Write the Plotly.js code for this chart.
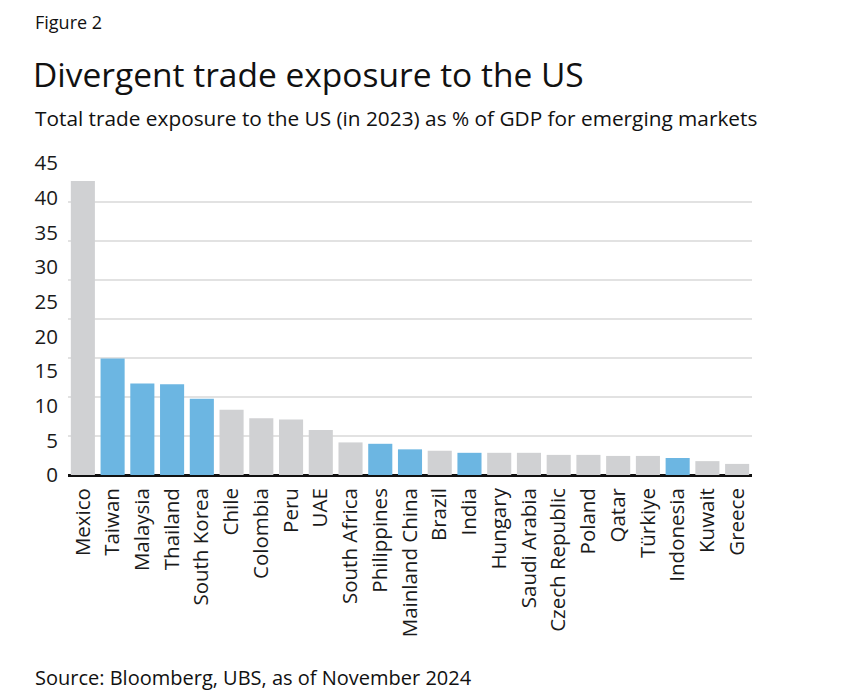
<!DOCTYPE html>
<html>
<head>
<meta charset="utf-8">
<script src="https://cdn.plot.ly/plotly-3.0.1.min.js"></script>
<style>html,body{margin:0;padding:0;background:#fff;}#chart{width:847px;height:694px;}</style>
</head>
<body>
<div id="chart"></div>
<script>
const countries = ["Mexico","Taiwan","Malaysia","Thailand","South Korea","Chile","Colombia","Peru","UAE","South Africa","Philippines","Mainland China","Brazil","India","Hungary","Saudi Arabia","Czech Republic","Poland","Qatar","Türkiye","Indonesia","Kuwait","Greece"];
const exposure = [42.4,16.8,13.2,13.1,11.0,9.4,8.2,8.0,6.5,4.7,4.5,3.7,3.5,3.2,3.2,3.2,2.9,2.9,2.75,2.75,2.45,2.0,1.6];
const highlighted = ["Taiwan","Malaysia","Thailand","South Korea","Philippines","Mainland China","India","Indonesia"];
const yTicks = [0,5,10,15,20,25,30,35,40,45];

const BLUE = "#6cb6e2", GREY = "#d0d1d3";
const FONT = "Open Sans, Noto Sans, sans-serif";
const colors = countries.map(c => highlighted.includes(c) ? BLUE : GREY);

const trace = {
  type: "bar", x: countries, y: exposure,
  marker: {color: colors, line: {width: 0}},
  hoverinfo: "x+y"
};

// plot area: x 68..752, y 163..475 (px)
const PX = v => (v - 68) / 684;
const PY = v => (475 - v) / 312;

const layout = {
  width: 847, height: 694,
  margin: {l: 68, r: 95, t: 163, b: 219},
  paper_bgcolor: "#fff", plot_bgcolor: "#fff",
  bargap: 0.19,
  showlegend: false,
  font: {family: FONT, color: "#1a1a1a"},
  title: {
    text: "Divergent trade exposure to the US",
    font: {family: FONT, size: 33.5, color: "#111"},
    xref: "container", x: 33/847, xanchor: "left",
    yref: "container", y: 1 - 75/694, yanchor: "middle"
  },
  xaxis: {
    type: "category", range: [-0.5, countries.length - 0.5], tickangle: -90,
    tickfont: {family: FONT, size: 20.5, color: "#1a1a1a"},
    showgrid: false, zeroline: false, showline: false, ticks: "",
    ticklabelstandoff: 8
  },
  yaxis: {
    range: [0, 45], tickvals: yTicks, ticktext: yTicks.map(String),
    tickfont: {family: FONT, size: 20.5, color: "#1a1a1a"},
    showgrid: false, zeroline: true, zerolinecolor: "#111", zerolinewidth: 3,
    showline: false, ticks: "", ticklabelstandoff: 9
  },
  yaxis2: {
    overlaying: "y", range: [0, 45], tick0: 0, dtick: 45/8,
    showticklabels: false, showgrid: true, gridcolor: "#e2e2e2", gridwidth: 1.5,
    zeroline: false, ticks: "", layer: "below traces"
  },
  annotations: [
    {text: "Figure 2", xref: "paper", yref: "paper", x: PX(33), y: PY(22),
     xanchor: "left", yanchor: "middle", showarrow: false, font: {family: FONT, size: 18, color: "#111"}},
    {text: "Total trade exposure to the US (in 2023) as % of GDP for emerging markets", xref: "paper", yref: "paper",
     x: PX(33), y: PY(118), xanchor: "left", yanchor: "middle", showarrow: false,
     font: {family: FONT, size: 20.8, color: "#111"}},
    {text: "Source: Bloomberg, UBS, as of November 2024", xref: "paper", yref: "paper",
     x: PX(33), y: PY(677), xanchor: "left", yanchor: "middle", showarrow: false,
     font: {family: FONT, size: 20, color: "#111"}}
  ]
};

// invisible helper trace so the gridline axis is drawn
const gridTrace = {type: "scatter", x: [countries[0]], y: [0], yaxis: "y2", mode: "markers",
  marker: {opacity: 0}, hoverinfo: "skip", showlegend: false};

Plotly.newPlot("chart", [gridTrace, trace], layout, {displayModeBar: false, staticPlot: true});
</script>
</body>
</html>
